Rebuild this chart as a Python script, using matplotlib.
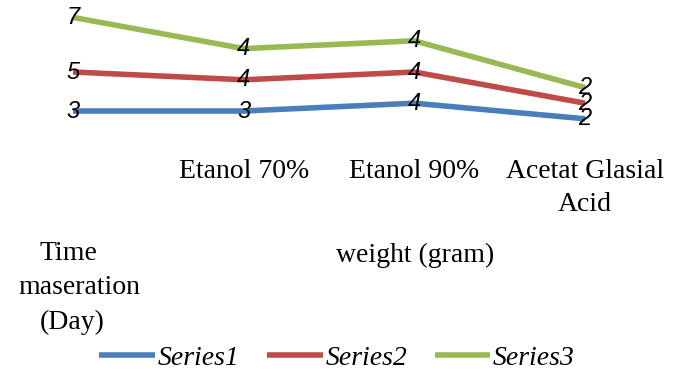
import numpy as np
import matplotlib
matplotlib.use("Agg")
import matplotlib.pyplot as plt

categories = ["Time\nmaseration\n(Day)", "Etanol 70%", "Etanol 90%", "Acetat Glasial\nAcid"]
series_names = ["Series1", "Series2", "Series3"]
series1 = [3, 3, 4, 2]
series2 = [5, 4, 4, 2]
series3 = [7, 4, 4, 2]
colors = ["#4A7EBB", "#BE4B48", "#98B954"]
axis_title = "weight (gram)"

W, H = 674, 378
fig = plt.figure(figsize=(W / 100, H / 100), dpi=100)

# axes placed so that category 0..3 and stacked value 0..15 land where the reference has them
x0, x1 = 73, 585
y0, y1 = 134.4, 17.4
ax = fig.add_axes([x0 / W, 1 - y0 / H, (x1 - x0) / W, (y0 - y1) / H])
ax.set_xlim(0, 3)
ax.set_ylim(0, 15)
ax.axis("off")

x = np.arange(len(categories))
values = [series1, series2, series3]
base = np.zeros(len(categories))
handles = []
for name, vals, col in zip(series_names, values, colors):
    top = base + np.array(vals)
    h, = ax.plot(x, top, color=col, lw=4, solid_capstyle="butt", clip_on=False, label=name)
    handles.append(h)
    for xi, yi, v in zip(x, top, vals):
        ax.text(xi, yi, str(v), ha="center", va="center", fontsize=17,
                style="italic", family="Liberation Sans", clip_on=False)
    base = top

serif = "Liberation Serif"
fs = 20
# category labels, positioned in pixels under each category
for xi, lab in zip(x, categories):
    px = x0 + xi * (x1 - x0) / 3
    if xi == 0:
        # first label sits lower and is set line by line like the original
        lines = lab.split("\n")
        offsets = [(-33, 253, "left"), (79 - px, 288, "center"), (-33, 322, "left")]
        for line, (dx, py, ha) in zip(lines, offsets):
            fig.text((px + dx) / W, 1 - py / H, line, ha=ha, va="center",
                     fontsize=fs, family=serif)
    else:
        fig.text(px / W, 1 - 159 / H, lab, ha="center", va="top",
                 fontsize=fs, family=serif, linespacing=1.4)

fig.text(415 / W, 1 - 255 / H, axis_title, ha="center", va="center", fontsize=fs, family=serif)

fig.legend(handles=handles, loc="center", bbox_to_anchor=(0.5, 1 - 358 / H), ncol=3,
           frameon=False, prop={"family": serif, "style": "italic", "size": 20},
           handlelength=2.0, handletextpad=0.1, columnspacing=1.0)

fig.savefig("out.png", dpi=100)
